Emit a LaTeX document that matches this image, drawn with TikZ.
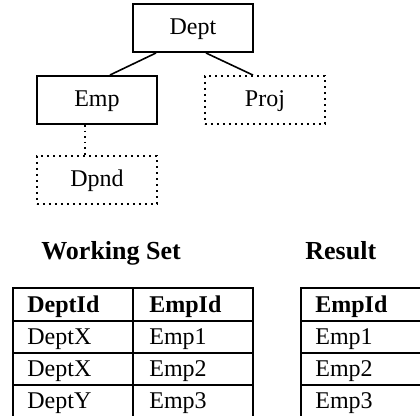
\documentclass[tikz,border=0pt]{standalone}
\usepackage{fontspec}
\setmainfont{Liberation Serif}

\tikzset{
  entity/.style={draw, line width=1pt, minimum width=60pt, minimum height=24pt,
    inner sep=0pt, font=\fontsize{12}{14}\selectfont, text height=8.5pt, text depth=1.5pt},
  weak/.style={entity, dotted, line width=0.9pt},
  cell/.style={anchor=base west, inner sep=0pt, font=\fontsize{12}{14}\selectfont},
  head/.style={cell, font=\fontsize{12}{14}\selectfont\bfseries},
}

\begin{document}
\begin{tikzpicture}[x=0.5pt, y=-0.5pt]
      \useasboundingbox (0,0) rectangle (420,416);
      % schema tree
      \node[entity] (dept) at (193,28) {Dept};
      \node[entity] (emp)  at (97,100) {Emp};
      \node[weak]   (proj) at (265,100) {Proj};
      \node[weak]   (dpnd) at (97,180) {Dpnd};
      \draw[line width=0.8pt] ([xshift=12pt]dept.south west) -- ([xshift=6.5pt]emp.north);
      \draw[line width=0.8pt] ([xshift=6.5pt]dept.south) -- ([xshift=-6pt]proj.north);
      \draw[line width=0.8pt, dotted] ([xshift=-6pt]emp.south) -- ([xshift=-6pt]dpnd.north);

      % titles
      \node[head, font=\fontsize{13}{15}\selectfont\bfseries] (wstitle) at (41,260) {Working Set};
      \node[head, font=\fontsize{13}{15}\selectfont\bfseries] (restitle) at (305,260) {Result};

      % working set table
      \draw[line width=1pt] (13,416) -- (13,288) -- (253,288) -- (253,416);
      \draw[line width=1pt] (133,288) -- (133,416);
      \foreach \y in {321,353,385}
        \draw[line width=1pt] (13,\y) -- (253,\y);
      \node[head] (wsdept) at (27,313) {DeptId};
      \node[head] (wsemp)  at (149,313) {EmpId};
      \foreach \d/\e [count=\i] in {DeptX/Emp1, DeptX/Emp2, DeptY/Emp3} {
        \node[cell] (wsd\i) at (27,313+32*\i) {\d};
        \node[cell] (wse\i) at (149,313+32*\i) {\e};
      }

      % result table
      \draw[line width=1pt] (301,416) -- (301,288) -- (420,288);
      \foreach \y in {321,353,385}
        \draw[line width=1pt] (301,\y) -- (420,\y);
      \node[head] (resemp) at (315,313) {EmpId};
      \foreach \e [count=\i] in {Emp1, Emp2, Emp3}
        \node[cell] (rese\i) at (315,313+32*\i) {\e};
    \end{tikzpicture}
\end{document}
